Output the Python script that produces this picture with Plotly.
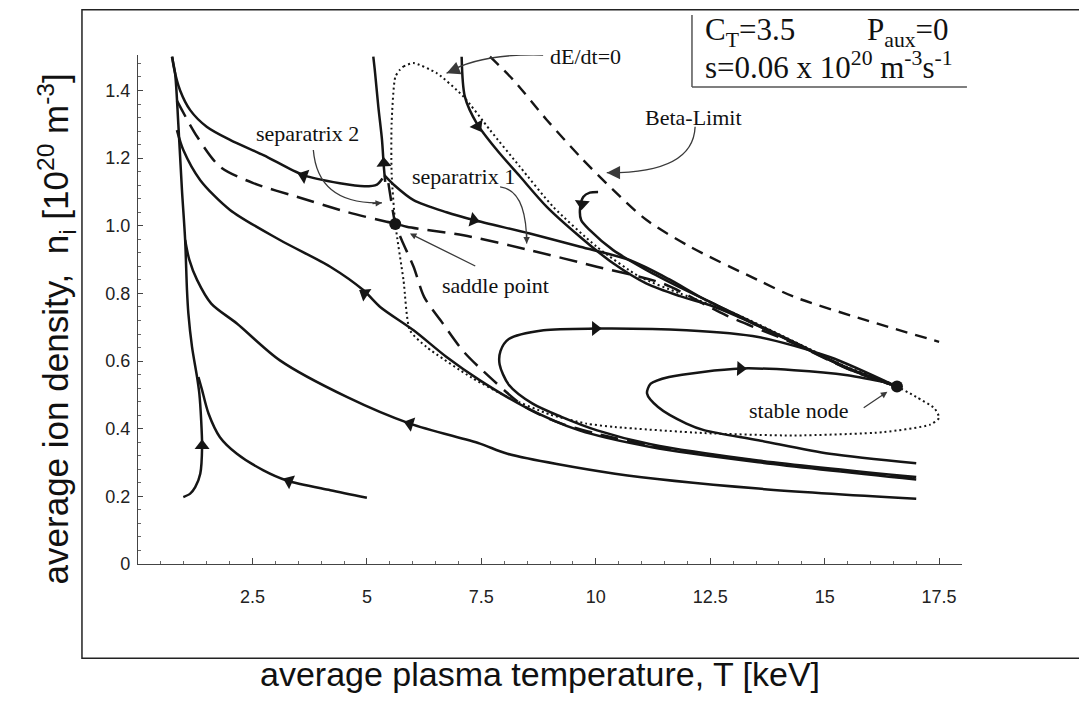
import plotly.graph_objects as go

# ---------------- data (T in keV, n_i in 1e20 m^-3) ----------------
steep_T = [0.99, 1.14, 1.25, 1.36, 1.40, 1.38, 1.34, 1.29, 1.18, 1.10, 1.07, 1.03, 0.96, 0.88, 0.81, 0.74]
steep_n = [0.198, 0.208, 0.227, 0.267, 0.346, 0.425, 0.504, 0.553, 0.642, 0.741, 0.81, 0.958, 1.106, 1.303, 1.451, 1.50]

low_T = [5.0, 4.2, 3.25, 2.74, 2.16, 1.79, 1.54, 1.40, 1.32]
low_n = [0.196, 0.218, 0.247, 0.277, 0.326, 0.375, 0.445, 0.514, 0.553]

mid_T = [1.03, 1.12, 1.29, 1.6, 2.16, 3.10, 4.56, 5.94, 7.47, 8.07, 10.42, 13.55, 17.0]
mid_n = [0.958, 0.90, 0.84, 0.77, 0.711, 0.602, 0.494, 0.415, 0.356, 0.326, 0.267, 0.223, 0.193]

upper_T = [0.85, 0.99, 1.36, 2.01, 3.10, 4.20, 4.92, 5.29, 6.02, 6.74, 7.47, 8.46, 9.64, 11.2, 13.55, 17.0]
upper_n = [1.283, 1.224, 1.135, 1.047, 0.958, 0.879, 0.81, 0.76, 0.691, 0.612, 0.543, 0.464, 0.395, 0.346, 0.301, 0.250]

top_T = [0.75, 0.78, 0.92, 1.14, 1.50, 2.01, 2.74, 3.61, 4.41, 4.95, 5.22, 5.34]
top_n = [1.50, 1.47, 1.40, 1.342, 1.293, 1.254, 1.209, 1.150, 1.126, 1.117, 1.122, 1.14]

spike_T = [5.14, 5.18, 5.25, 5.33, 5.37, 5.40]
spike_n = [1.50, 1.451, 1.352, 1.254, 1.175, 1.13]

sep1_T = [5.38, 5.6, 6.02, 6.74, 7.33, 8.56, 9.66, 10.75, 11.6, 12.3, 13.08, 14.33, 15.5, 16.44, 16.58]
sep1_n = [1.15, 1.12, 1.076, 1.040, 1.017, 0.977, 0.938, 0.898, 0.842, 0.788, 0.737, 0.656, 0.580, 0.532, 0.525]

fall_T = [7.07, 7.14, 7.40, 7.84, 8.35, 8.93, 9.66, 10.38, 11.11, 11.84, 12.5, 13.08, 14.33, 15.5, 16.44]
fall_n = [1.50, 1.382, 1.303, 1.224, 1.145, 1.056, 0.967, 0.889, 0.829, 0.792, 0.765, 0.733, 0.654, 0.578, 0.531]

hook_T = [10.05, 9.87, 9.73, 9.66, 9.68, 9.87, 10.38, 11.11, 11.84, 12.5, 13.08, 14.33, 15.5, 16.44]
hook_n = [1.10, 1.098, 1.086, 1.056, 1.017, 0.987, 0.928, 0.869, 0.818, 0.775, 0.735, 0.655, 0.579, 0.531]

dedt_T = [5.72, 5.80, 6.02, 6.53, 7.11, 7.69, 8.34, 9.07, 10.02, 10.96, 11.84, 13.08, 14.33, 15.5, 16.44,
          17.0, 17.4, 17.5, 17.3, 16.29, 14.33, 12.38, 10.42, 9.80, 9.0, 8.07, 7.3, 6.3, 5.94, 5.80,
          5.62, 5.54, 5.54, 5.62, 5.72]
dedt_n = [1.461, 1.471, 1.481, 1.451, 1.382, 1.283, 1.175, 1.056, 0.938, 0.849, 0.80, 0.738, 0.658, 0.582, 0.534,
          0.494, 0.46, 0.432, 0.412, 0.390, 0.380, 0.387, 0.405, 0.415, 0.442, 0.494, 0.55, 0.642, 0.691, 0.839,
          1.007, 1.155, 1.303, 1.440, 1.461]

beta_T = [7.69, 8.2, 8.93, 9.66, 10.38, 11.11, 12.06, 13.55, 14.33, 15.9, 17.5]
beta_n = [1.50, 1.431, 1.313, 1.204, 1.106, 1.017, 0.938, 0.839, 0.790, 0.721, 0.657]

sepA_T = [0.85, 1.29, 1.79, 2.52, 3.47, 4.56, 5.43, 5.62, 5.87, 7.11, 8.56, 10.02, 11.47, 12.85, 14.33, 15.5, 16.5]
sepA_n = [1.37, 1.264, 1.175, 1.126, 1.086, 1.041, 1.012, 1.007, 0.997, 0.972, 0.928, 0.879, 0.829, 0.735, 0.652, 0.577, 0.528]

sepB_T = [5.47, 5.54, 5.62, 5.76, 6.02, 6.25, 6.66, 7.1, 7.52, 8.46, 9.25, 10.03, 11.2, 13.55, 17.0]
sepB_n = [1.126, 1.066, 1.007, 0.958, 0.879, 0.79, 0.711, 0.63, 0.573, 0.464, 0.415, 0.385, 0.350, 0.304, 0.252]

outer_T = [17.0, 13.55, 11.2, 10.03, 9.25, 8.62, 8.1, 7.9, 7.92, 8.1, 8.86, 9.99, 11.98, 13.55, 15.11, 16.52]
outer_n = [0.257, 0.306, 0.354, 0.395, 0.435, 0.474, 0.53, 0.59, 0.63, 0.665, 0.691, 0.696, 0.691, 0.671, 0.612, 0.528]

inner_T = [17.0, 15.11, 13.55, 12.38, 11.98, 11.36, 11.12, 11.2, 11.6, 13.16, 14.33, 15.5, 16.44]
inner_n = [0.298, 0.326, 0.366, 0.395, 0.415, 0.464, 0.504, 0.533, 0.553, 0.578, 0.573, 0.558, 0.534]

arrow_T = [1.40, 3.30, 5.94, 4.95, 3.62, 5.37, 7.33, 7.42, 9.70, 9.99, 13.16]
arrow_n = [0.35, 0.245, 0.415, 0.80, 1.148, 1.185, 1.017, 1.295, 1.065, 0.696, 0.578]
arrow_dir = [0, -67, -73, -57, -70, -3, 104, 150, 185, 90, 92]

point_T = [5.62, 16.58]
point_n = [1.005, 0.525]

x_tickvals = [2.5, 5, 7.5, 10, 12.5, 15, 17.5]
x_ticktext = ["2.5", "5", "7.5", "10", "12.5", "15", "17.5"]
y_tickvals = [0, 0.2, 0.4, 0.6, 0.8, 1.0, 1.2, 1.4]
y_ticktext = ["0", "0.2", "0.4", "0.6", "0.8", "1.0", "1.2", "1.4"]

INK = "#151515"
fig = go.Figure()


def add_line(T, n, dash=None, width=2.5, smooth=0.8):
    fig.add_trace(go.Scatter(
        x=T, y=n, mode="lines",
        line=dict(color=INK, width=width, dash=dash, shape="spline", smoothing=smooth),
        hoverinfo="skip", showlegend=False))


add_line(dedt_T, dedt_n, dash="2px,3px", width=2, smooth=0.6)
add_line(beta_T, beta_n, dash="12px,8px", width=2.4)
add_line(sepA_T, sepA_n, dash="18px,9px", width=2.5)
add_line(sepB_T, sepB_n, dash="18px,9px", width=2.5)
for T, n in [(steep_T, steep_n), (low_T, low_n), (mid_T, mid_n), (upper_T, upper_n),
             (top_T, top_n), (spike_T, spike_n), (sep1_T, sep1_n), (fall_T, fall_n),
             (hook_T, hook_n), (outer_T, outer_n), (inner_T, inner_n)]:
    add_line(T, n)

fig.add_trace(go.Scatter(
    x=arrow_T, y=arrow_n, mode="markers",
    marker=dict(symbol="triangle-up", size=13, color=INK, angle=arrow_dir, line=dict(width=0)),
    hoverinfo="skip", showlegend=False))
fig.add_trace(go.Scatter(
    x=point_T, y=point_n, mode="markers",
    marker=dict(symbol="circle", size=12, color=INK),
    hoverinfo="skip", showlegend=False))

# curved pointer lines for the labels
pointer_color = "#3a3a3a"
curved = [
    ((3.83, 1.224), (3.93, 1.061), (5.33, 1.068)),
    ((7.91, 1.115), (8.49, 1.106), (8.49, 0.948)),
    ((8.85, 1.505), (7.45, 1.51), (6.74, 1.451)),
    ((12.17, 1.293), (12.13, 1.155), (10.24, 1.157)),
]
for (x0, y0), (cx, cy), (x1, y1) in curved:
    fig.add_shape(type="path", xref="x", yref="y",
                  path=f"M {x0},{y0} Q {cx},{cy} {x1},{y1}",
                  line=dict(color=pointer_color, width=1.3))

serif = "Liberation Serif, Times New Roman, serif"
labels = [
    ("separatrix 2", 3.71, 1.274),
    ("separatrix 1", 7.11, 1.145),
    ("saddle point", 7.80, 0.824),
    ("dE/dt=0", 9.78, 1.50),
    ("Beta-Limit", 12.13, 1.319),
    ("stable node", 14.45, 0.455),
]
for txt, x, y in labels:
    fig.add_annotation(x=x, y=y, xref="x", yref="y", text=txt, showarrow=False,
                       font=dict(family=serif, size=22, color="#111"))

# arrowheads of pointers
heads = [
    (5.33, 1.068, -11, 1, 1.0, 1.3),
    (8.49, 0.948, 0, -11, 1.0, 1.3),
    (6.74, 1.451, 12, -5, 1.9, 1.4),
    (10.24, 1.157, 12, 0, 1.9, 1.4),
]
for x, y, ax, ay, size, w in heads:
    fig.add_annotation(x=x, y=y, xref="x", yref="y", ax=ax, ay=ay, text="",
                       showarrow=True, arrowhead=2, arrowsize=size, arrowwidth=w,
                       arrowcolor=pointer_color)
# straight pointers
fig.add_annotation(x=5.94, y=0.977, ax=7.40, ay=0.879, xref="x", yref="y", axref="x", ayref="y",
                   text="", showarrow=True, arrowhead=2, arrowsize=1.0, arrowwidth=1.3,
                   arrowcolor=pointer_color)
fig.add_annotation(x=16.37, y=0.509, ax=15.82, ay=0.459, xref="x", yref="y", axref="x", ayref="y",
                   text="", showarrow=True, arrowhead=2, arrowsize=1.0, arrowwidth=1.3,
                   arrowcolor=pointer_color)

# parameter box
fig.add_annotation(x=0.6857, y=1.045, xref="paper", yref="paper", xanchor="left", yanchor="middle",
                   text="C<sub>T</sub>=3.5", showarrow=False, font=dict(family=serif, size=31, color="#111"))
fig.add_annotation(x=0.8823, y=1.045, xref="paper", yref="paper", xanchor="left", yanchor="middle",
                   text="P<sub>aux</sub>=0", showarrow=False, font=dict(family=serif, size=31, color="#111"))
fig.add_annotation(x=0.6857, y=0.980, xref="paper", yref="paper", xanchor="left", yanchor="middle",
                   text="s=0.06 x 10<sup>20</sup> m<sup>-3</sup>s<sup>-1</sup>", showarrow=False,
                   font=dict(family=serif, size=31, color="#111"))
fig.add_shape(type="line", xref="paper", yref="paper", x0=0.6723, x1=0.6723, y0=1.0786, y1=0.937,
              line=dict(color="#555", width=1.5))
fig.add_shape(type="line", xref="paper", yref="paper", x0=0.6723, x1=1.006, y0=0.937, y1=0.937,
              line=dict(color="#555", width=1.5))

# outer frame
fig.add_shape(type="rect", xref="paper", yref="paper", x0=-0.068, x1=1.165, y0=-0.185, y1=1.089,
              line=dict(color="#222", width=1.5))

# axis titles
sans = "Liberation Sans, Arial, sans-serif"
fig.add_annotation(x=0.488, y=-0.257, xref="paper", yref="paper", showarrow=False,
                   text="average plasma temperature, T [keV]", font=dict(family=sans, size=34, color="#111"))
fig.add_annotation(x=-0.131, y=0.462, xref="paper", yref="paper", showarrow=False, textangle=-90,
                   text="average ion density,  n<sub>i</sub> [10<sup>20</sup> m<sup>-3</sup>]",
                   font=dict(family=sans, size=35, color="#111"))

tickfont = dict(family=sans, size=18, color="#222")
# the page body adds an 8 px offset, so the margins are shifted by that amount
fig.update_layout(
    width=1087, height=722,
    margin=dict(l=130, r=133, t=47, b=166),
    paper_bgcolor="white", plot_bgcolor="white",
    showlegend=False,
    xaxis=dict(range=[0, 18], showline=True, linecolor="#444", linewidth=1.2,
               ticks="inside", ticklen=6, tickcolor="#444", tickwidth=1.2,
               tickmode="array", tickvals=x_tickvals, ticktext=x_ticktext,
               minor=dict(tickmode="linear", tick0=0, dtick=0.5, ticks="inside", ticklen=3,
                          tickcolor="#666", showgrid=False),
               showgrid=False, zeroline=False, tickfont=tickfont, ticklabelstandoff=16),
    yaxis=dict(range=[0, 1.505], showline=True, linecolor="#444", linewidth=1.2,
               ticks="inside", ticklen=5, tickcolor="#444", tickwidth=1.2,
               tickmode="array", tickvals=y_tickvals, ticktext=y_ticktext,
               minor=dict(tickmode="linear", tick0=0, dtick=0.04, ticks="inside", ticklen=3,
                          tickcolor="#666", showgrid=False),
               showgrid=False, zeroline=False, tickfont=tickfont, ticklabelstandoff=3),
)

fig.write_html("out.html")
